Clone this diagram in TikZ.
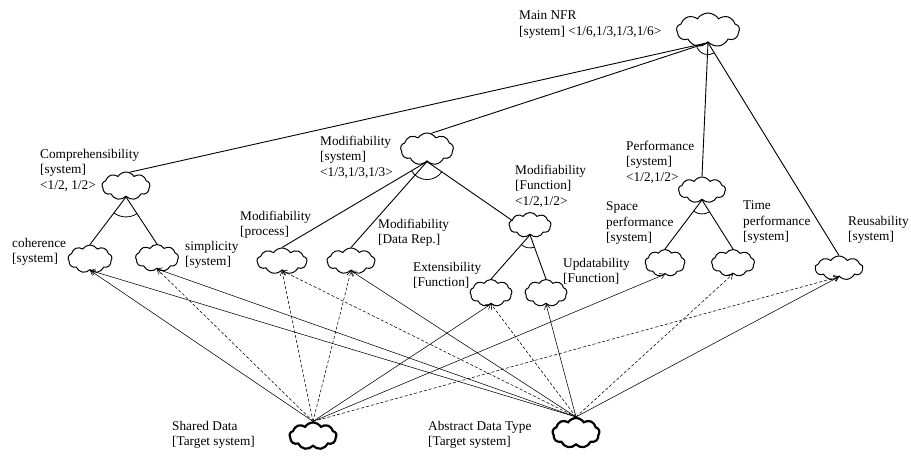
\documentclass[tikz,border=0pt]{standalone}
\usepackage{fontspec}
\setmainfont{Liberation Serif}
\usetikzlibrary{shapes.symbols,arrows.meta,angles}
\begin{document}
\begin{tikzpicture}[x=1pt,y=-1pt,
  goal/.style={cloud,cloud puffs=9,cloud puff arc=115,draw,line width=1pt,inner sep=0pt,minimum width=#1},
  goal/.default=46pt,
  target/.style={goal,line width=2.2pt},
  lbl/.style={anchor=north west,inner sep=0pt,align=left,font=\fontsize{13.3}{15.5}\selectfont,execute at begin node=\strut},
  dec/.style={line width=0.9pt},
  andarc/.style={draw,line width=0.8pt},
  contrib/.style={line width=0.55pt,-{Straight Barb[length=4.5pt,width=6pt]}},
  neg/.style={contrib,dash pattern=on 3pt off 2pt}
]
\useasboundingbox (0,0) rectangle (911,456);
% clouds
\node[goal=63pt,minimum height=34pt] (main) at (708,30) {};
\node[goal=48pt,minimum height=28pt] (comp) at (126,186) {};
\node[goal=53pt,minimum height=32pt] (modsys) at (427,149) {};
\node[goal=42pt,minimum height=25pt] (modfun) at (530,225) {};
\node[goal=47pt,minimum height=26pt] (perf) at (702,190) {};
\node[goal=44pt,minimum height=28pt] (coh) at (90,259) {};
\node[goal=43pt,minimum height=27pt] (simp) at (157,258) {};
\node[goal=50pt,minimum height=26pt] (proc) at (282,261) {};
\node[goal=48pt,minimum height=26pt] (drep) at (351,261) {};
\node[goal=42pt,minimum height=27pt] (ext) at (491,293) {};
\node[goal=42pt,minimum height=27pt] (upd) at (546,293) {};
\node[goal=40pt,minimum height=27pt] (space) at (665,263) {};
\node[goal=43pt,minimum height=27pt] (time) at (733,263) {};
\node[goal=48pt,minimum height=24pt] (reus) at (839,268) {};
\node[target,minimum width=47pt,minimum height=27pt] (sd) at (313,436) {};
\node[target,minimum width=47pt,minimum height=30pt] (adt) at (576,433) {};
% labels
\node[lbl] (lmain) at (519,10.8) {Main NFR\\\relax [system] <1/6,1/3,1/3,1/6>};
\node[lbl] (lcomp) at (40,148.8) {Comprehensibility\\\relax [system]\\<1/2, 1/2>};
\node[lbl] (lcoh) at (12,237.8) {coherence\\\relax [system]};
\node[lbl] (lsimp) at (185,240.8) {simplicity\\\relax [system]};
\node[lbl] (lproc) at (240,210.8) {Modifiability\\\relax [process]};
\node[lbl] (lmodsys) at (320,135.8) {Modifiability\\\relax [system]\\<1/3,1/3,1/3>};
\node[lbl] (ldrep) at (378,218.8) {Modifiability\\\relax [Data Rep.]};
\node[lbl] (lmodfun) at (515,164.8) {Modifiability\\\relax [Function]\\<1/2,1/2>};
\node[lbl] (lext) at (413,261.8) {Extensibility\\\relax [Function]};
\node[lbl] (lupd) at (563,257.8) {Updatability\\\relax [Function]};
\node[lbl] (lperf) at (626,140.8) {Performance\\\relax [system]\\<1/2,1/2>};
\node[lbl] (lspace) at (606,201.8) {Space\\performance\\\relax [system]};
\node[lbl] (ltime) at (743,200.8) {Time\\performance\\\relax [system]};
\node[lbl] (lreus) at (848,215.8) {Reusability\\\relax [system]};
\node[lbl] (lsd) at (172,420.8) {Shared Data\\\relax [Target system]};
\node[lbl] (ladt) at (428,420.8) {Abstract Data Type\\\relax [Target system]};
% decomposition points
\coordinate (mainS) at (main.south);
\coordinate (compS) at (comp.south);
\coordinate (modsysS) at (modsys.south);
\coordinate (modfunS) at (modfun.south);
\coordinate (perfS) at (perf.south);
\coordinate (compN) at (comp.75);
\coordinate (modsysN) at (modsys.75);
\coordinate (perfN) at (perf.north);
\coordinate (reusN) at (reus.north);
\coordinate (cohN) at (coh.north);
\coordinate (simpN) at (simp.north);
\coordinate (procN) at (proc.north);
\coordinate (drepN) at (drep.north);
\coordinate (modfunW) at (modfun.165);
\coordinate (extN) at (ext.north);
\coordinate (updN) at (upd.north);
\coordinate (spaceN) at (space.north);
\coordinate (timeN) at (time.north);
% decomposition links
\draw[dec] (mainS) -- (compN);
\draw[dec] (mainS) -- (modsysN);
\draw[dec] (mainS) -- (perfN);
\draw[dec] (mainS) -- (reusN);
\draw[dec] (compS) -- (cohN);
\draw[dec] (compS) -- (simpN);
\draw[dec] (modsysS) -- (procN);
\draw[dec] (modsysS) -- (drepN);
\draw[dec] (modsysS) -- (modfunW);
\draw[dec] (modfunS) -- (extN);
\draw[dec] (modfunS) -- (updN);
\draw[dec] (perfS) -- (spaceN);
\draw[dec] (perfS) -- (timeN);
% AND arcs
\pic[andarc,angle radius=12pt] {angle=compN--mainS--reusN};
\pic[andarc,angle radius=20pt] {angle=cohN--compS--simpN};
\pic[andarc,angle radius=18pt] {angle=procN--modsysS--modfunW};
\pic[andarc,angle radius=13pt] {angle=extN--modfunS--updN};
\pic[andarc,angle radius=14pt] {angle=spaceN--perfS--timeN};
% contributions from Shared Data
\draw[contrib] (sd.north) -- (coh.south);
\draw[neg] (sd.north) -- (simp.south);
\draw[neg] (sd.north) -- (proc.south);
\draw[neg] (sd.north) -- (drep.south);
\draw[contrib] (sd.north) -- (ext.south);
\draw[contrib] (sd.north) -- (space.south);
\draw[neg] (sd.north) -- (reus.south);
% contributions from Abstract Data Type
\draw[contrib] (adt.north) -- (coh.south);
\draw[contrib] (adt.north) -- (simp.south);
\draw[neg] (adt.north) -- (proc.south);
\draw[contrib] (adt.north) -- (drep.south);
\draw[neg] (adt.north) -- (ext.south);
\draw[contrib] (adt.north) -- (upd.south);
\draw[neg] (adt.north) -- (time.south);
\draw[contrib] (adt.north) -- (reus.south);
\end{tikzpicture}
\end{document}
